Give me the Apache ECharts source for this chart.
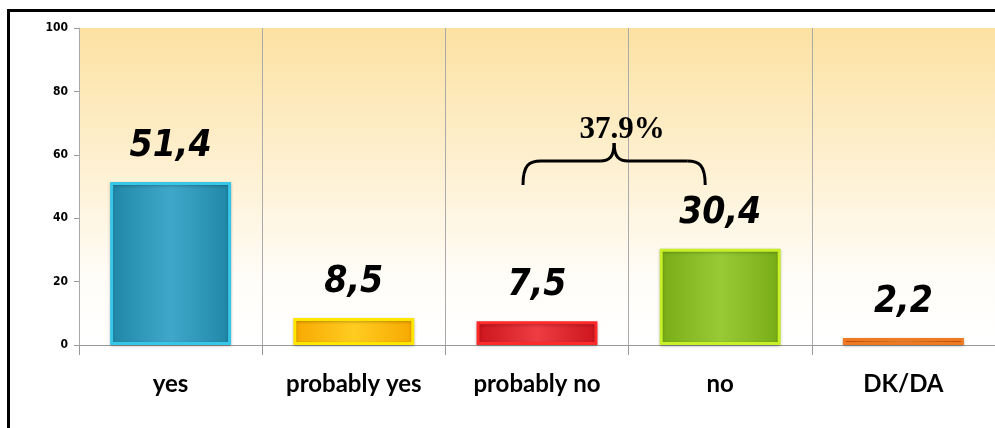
<!DOCTYPE html>
<html>
<head>
<meta charset="utf-8">
<script src="https://cdn.jsdelivr.net/npm/echarts@6/dist/echarts.min.js"></script>
<style>
  html, body { margin: 0; padding: 0; background: #fff; }
  #frame { position: absolute; left: 7px; top: 9px; width: 1000px; height: 430px; border-left: 3px solid #000; border-top: 3px solid #000; box-sizing: border-box; }
  #main { position: absolute; left: 0; top: 0; width: 995px; height: 428px; }
</style>
</head>
<body>
<div id="frame"></div>
<div id="main"></div>
<script>
var categories = ['yes', 'probably yes', 'probably no', 'no', 'DK/DA'];
var values = [51.4, 8.5, 7.5, 30.4, 2.2];
var valueLabels = ['51,4', '8,5', '7,5', '30,4', '2,2'];
var yTicks = [0, 20, 40, 60, 80, 100];
var bracketText = '37.9%';

// fill edge, fill centre, border
var barColors = [
  ['#1f86a6', '#3fa8ca', '#36c6e8'],
  ['#f7a800', '#ffcc20', '#ffe600'],
  ['#cc141c', '#ee3c42', '#ff2a2a'],
  ['#78ac14', '#98ca36', '#c8f028'],
  ['#ea5a08', '#ff9a48', '#f07a22']
];

var chart = echarts.init(document.getElementById('main'));

var data = values.map(function (v, i) {
  var c = barColors[i];
  return {
    value: v,
    itemStyle: {
      color: new echarts.graphic.LinearGradient(0, 0, 1, 0, [
        { offset: 0, color: c[0] },
        { offset: 0.5, color: c[1] },
        { offset: 1, color: c[0] }
      ]),
      borderColor: c[2],
      borderWidth: 3,
      shadowColor: 'rgba(0,0,0,0.25)',
      shadowBlur: 3,
      shadowOffsetY: 1
    }
  };
});

var option = {
  animation: false,
  grid: {
    left: 79, right: -4, top: 28, bottom: 83,
    show: true,
    borderWidth: 0,
    backgroundColor: new echarts.graphic.LinearGradient(0, 0, 0, 1, [
      { offset: 0, color: '#fce1a2' },
      { offset: 0.8, color: '#fffdf9' },
      { offset: 1, color: '#ffffff' }
    ])
  },
  xAxis: {
    type: 'category',
    data: categories,
    axisLine: { lineStyle: { color: '#999', width: 1 } },
    axisTick: { show: true, length: 10, lineStyle: { color: '#999' } },
    splitLine: { show: true, lineStyle: { color: '#aaa', width: 1 } },
    axisLabel: {
      color: '#000', fontFamily: 'Lato', fontWeight: 'bold', fontSize: 24, margin: 27
    }
  },
  yAxis: {
    type: 'value',
    min: 0, max: 100, interval: 20,
    axisLine: { show: true, lineStyle: { color: '#aaa' } },
    axisTick: { show: true, length: 5, lineStyle: { color: '#999' } },
    splitLine: { show: false },
    axisLabel: {
      color: '#000', fontFamily: 'DejaVu Sans Condensed', fontWeight: 'bold', fontSize: 12, margin: 11,
      formatter: function (v) { return yTicks.indexOf(v) >= 0 ? String(v) : ''; }
    }
  },
  series: [{
    type: 'bar',
    data: data,
    barWidth: '66%',
    label: {
      show: true,
      position: 'top',
      distance: 17,
      color: '#000',
      fontFamily: 'DejaVu Sans Condensed',
      fontStyle: 'italic',
      fontWeight: 'bold',
      fontSize: 37,
      formatter: function (p) { return valueLabels[p.dataIndex]; }
    }
  }]
};
chart.setOption(option);

// brace over "probably no" and "no"
var p1 = chart.convertToPixel({ xAxisIndex: 0 }, 'probably no') - 14;
var p2 = chart.convertToPixel({ xAxisIndex: 0 }, 'no') - 15;
var mid = (p1 + p2) / 2;
var yTop = 161, yTip = 185, yPeak = 143;
var braceStyle = { fill: null, stroke: '#000', lineWidth: 3 };

function curve(x1, y1, cx1, cy1, cx2, cy2, x2, y2) {
  return {
    type: 'bezierCurve', z: 100,
    shape: { x1: x1, y1: y1, cpx1: cx1, cpy1: cy1, cpx2: cx2, cpy2: cy2, x2: x2, y2: y2 },
    style: braceStyle
  };
}
function seg(x1, y1, x2, y2) {
  return { type: 'line', z: 100, shape: { x1: x1, y1: y1, x2: x2, y2: y2 }, style: braceStyle };
}

chart.setOption({
  graphic: [
    curve(p1, yTip, p1, yTop + 4, p1 + 6, yTop, p1 + 18, yTop),
    seg(p1 + 18, yTop, mid - 14, yTop),
    curve(mid - 14, yTop, mid - 5, yTop, mid, yTop - 4, mid, yPeak),
    curve(mid, yPeak, mid, yTop - 4, mid + 5, yTop, mid + 14, yTop),
    seg(mid + 14, yTop, p2 - 18, yTop),
    curve(p2 - 18, yTop, p2 - 6, yTop, p2, yTop + 4, p2, yTip),
    {
      type: 'text',
      x: mid + 8, y: 130, z: 100,
      style: {
        text: bracketText,
        fill: '#000',
        font: 'bold 31px "Liberation Serif"',
        textAlign: 'center',
        textVerticalAlign: 'middle'
      }
    }
  ]
});
</script>
</body>
</html>
